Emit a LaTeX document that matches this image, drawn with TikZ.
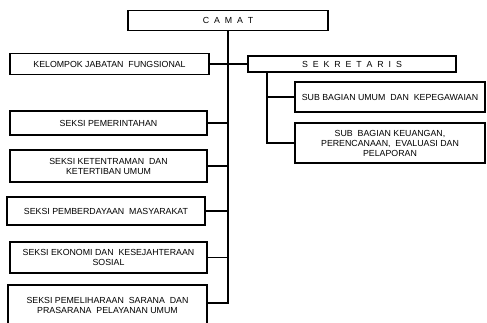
\documentclass[tikz,border=0pt]{standalone}
\usepackage{fontspec}
\setmainfont{Liberation Sans}
\usepackage{tikz}
\usetikzlibrary{positioning}
\tikzset{kotak/.style={draw,line width=1.2pt,align=center,inner sep=1pt,
  font=\fontsize{8.8}{10}\selectfont},
  garis/.style={line width=1.2pt}}

\begin{document}
\begin{tikzpicture}[x=1pt,y=-1pt]
\useasboundingbox (0,0) rectangle (487,322);
\node[kotak,minimum width=200pt,minimum height=20pt](camat)at(228,20.5){C\ \ A\ \ M\ \ A\ \ T};
\node[kotak,minimum width=199pt,minimum height=21pt](kelompok)at(109.5,64){KELOMPOK JABATAN\ \ FUNGSIONAL};
\node[kotak,minimum width=208pt,minimum height=16pt](sekretaris)at(352,64){S\ \ E\ \ K\ \ R\ \ E\ \ T\ \ A\ \ R\ \ I\ \ S};
\node[kotak,minimum width=190pt,minimum height=30pt](subumum)at(390,97){SUB BAGIAN UMUM\ \ DAN\ \ KEPEGAWAIAN};
\node[kotak,minimum width=190pt,minimum height=40pt](subkeu)at(390,143){SUB\ \ BAGIAN KEUANGAN,\\PERENCANAAN,\ \ EVALUASI DAN\\PELAPORAN};
\node[kotak,minimum width=197pt,minimum height=24pt](pemerintahan)at(108.5,123){SEKSI PEMERINTAHAN};
\node[kotak,minimum width=197pt,minimum height=32pt](ketentraman)at(108.5,166){SEKSI KETENTRAMAN\ \ DAN\\KETERTIBAN UMUM};
\node[kotak,minimum width=198pt,minimum height=28pt](pemberdayaan)at(106,211){SEKSI PEMBERDAYAAN\ \ MASYARAKAT};
\node[kotak,minimum width=197pt,minimum height=31pt](ekonomi)at(108.5,257.5){SEKSI EKONOMI DAN\ \ KESEJAHTERAAN\\SOSIAL};
\node[kotak,minimum width=199pt,minimum height=40pt](pemeliharaan)at(107.5,305){SEKSI PEMELIHARAAN\ \ SARANA\ \ DAN\\PRASARANA\ \ PELAYANAN UMUM};
\coordinate(ujung)at(228,303);
\coordinate(cabang)at(267,143);
% garis utama
\draw[garis](camat.south)--(ujung)--(pemeliharaan.east|-ujung);
\draw[garis](kelompok.east)--(sekretaris.west);
\foreach \s in {pemerintahan,ketentraman,pemberdayaan,ekonomi}
  \draw[garis](\s.east)--(\s-|ujung);
% sekretariat
\draw[garis](sekretaris.south-|cabang)--(cabang)--(subkeu.west);
\draw[garis](subumum.west)--(subumum-|cabang);
\end{tikzpicture}
\end{document}
